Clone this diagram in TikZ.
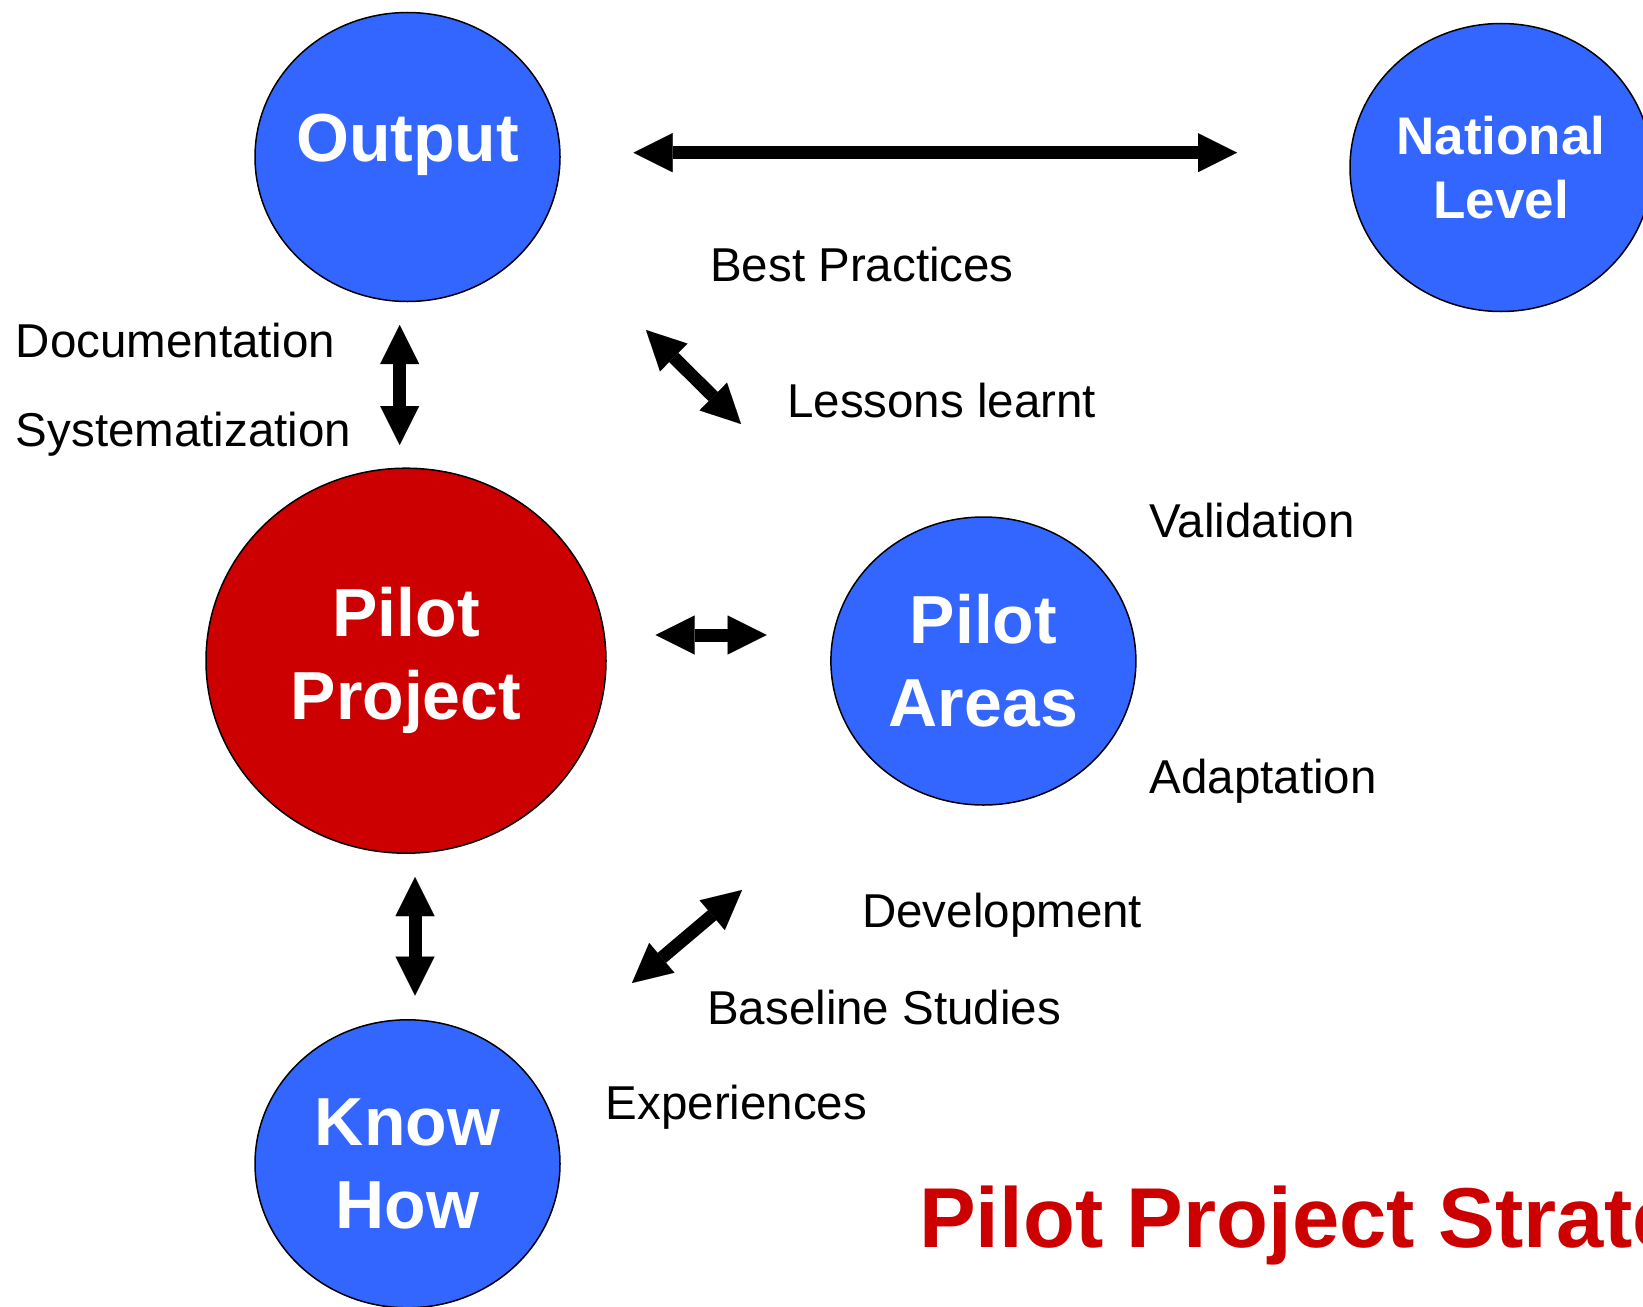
\documentclass[tikz,border=0pt]{standalone}
\usepackage{fontspec}
\setmainfont{Liberation Sans}
\usetikzlibrary{shapes.geometric,arrows.meta}
\definecolor{nodeblue}{RGB}{51,102,255}
\definecolor{nodered}{RGB}{204,0,0}
\definecolor{titlered}{RGB}{204,0,0}
\tikzset{
  bubble/.style={ellipse, draw=black, line width=1.5pt, inner sep=0pt,
    fill=nodeblue, text=white, align=center,
    font=\bfseries\fontsize{68}{83.3}\selectfont},
  lbl/.style={anchor=base west, inner sep=0pt, text=black,
    font=\fontsize{47.5}{57}\selectfont},
  blockarrow/.style={line width=13pt, black,
    {Triangle[length=39pt,width=39pt,line width=0.01pt]}-{Triangle[length=39pt,width=39pt,line width=0.01pt]}}
}
\begin{document}
\begin{tikzpicture}[x=1pt,y=-1pt]
\useasboundingbox (0,0) rectangle (1643,1306);
\clip (0,0) rectangle (1643,1306);

% bubbles
\node[bubble, minimum width=305pt, minimum height=289pt, text depth=38pt, inner xsep=-30pt] (output) at (407.5,157) {Output};
\node[bubble, minimum width=302pt, minimum height=288pt,
      font=\bfseries\fontsize{53}{64.4}\selectfont] (national) at (1501,167.5) {National\\Level};
\node[bubble, fill=nodered, minimum width=400pt, minimum height=385pt] (pilotproject) at (406,660.7) {Pilot\\Project};
\node[bubble, minimum width=305pt, minimum height=288pt] (pilotareas) at (983.4,661) {Pilot\\Areas};
\node[bubble, minimum width=305pt, minimum height=288pt] (knowhow) at (407.5,1163.8) {Know\\How};

% arrow end points
\coordinate (a1s) at (633.5,152.7);
\coordinate (a1e) at (1237,152.7);
\coordinate (a2s) at (399.7,325);
\coordinate (a2e) at (399.7,445);
\coordinate (a3s) at (646,330);
\coordinate (a3e) at (741,424);
\coordinate (a4s) at (655.7,635);
\coordinate (a4e) at (766.7,635);
\coordinate (a5s) at (742,890);
\coordinate (a5e) at (632,983);
\coordinate (a6s) at (415,877);
\coordinate (a6e) at (415,995.5);

\draw[blockarrow] (a1s) -- (a1e);
\draw[blockarrow] (a2s) -- (a2e);
\draw[blockarrow] (a3s) -- (a3e);
\draw[blockarrow] (a4s) -- (a4e);
\draw[blockarrow] (a5s) -- (a5e);
\draw[blockarrow] (a6s) -- (a6e);

% labels
\node[lbl] (l1) at (710,281) {Best Practices};
\node[lbl] (l2) at (15.7,357) {Documentation};
\node[lbl] (l3) at (15.7,446) {Systematization};
\node[lbl] (l4) at (787,417) {Lessons learnt};
\node[lbl] (l5) at (1149.5,537.6) {Validation};
\node[lbl] (l6) at (1149.5,793) {Adaptation};
\node[lbl] (l7) at (862,927) {Development};
\node[lbl] (l8) at (707,1024) {Baseline Studies};
\node[lbl] (l9) at (605.6,1119) {Experiences};

% title
\node[anchor=base west, inner sep=0pt, text=titlered,
      font=\bfseries\fontsize{85}{100}\selectfont] (title) at (919,1247) {Pilot Project Strategy};
\end{tikzpicture}
\end{document}
